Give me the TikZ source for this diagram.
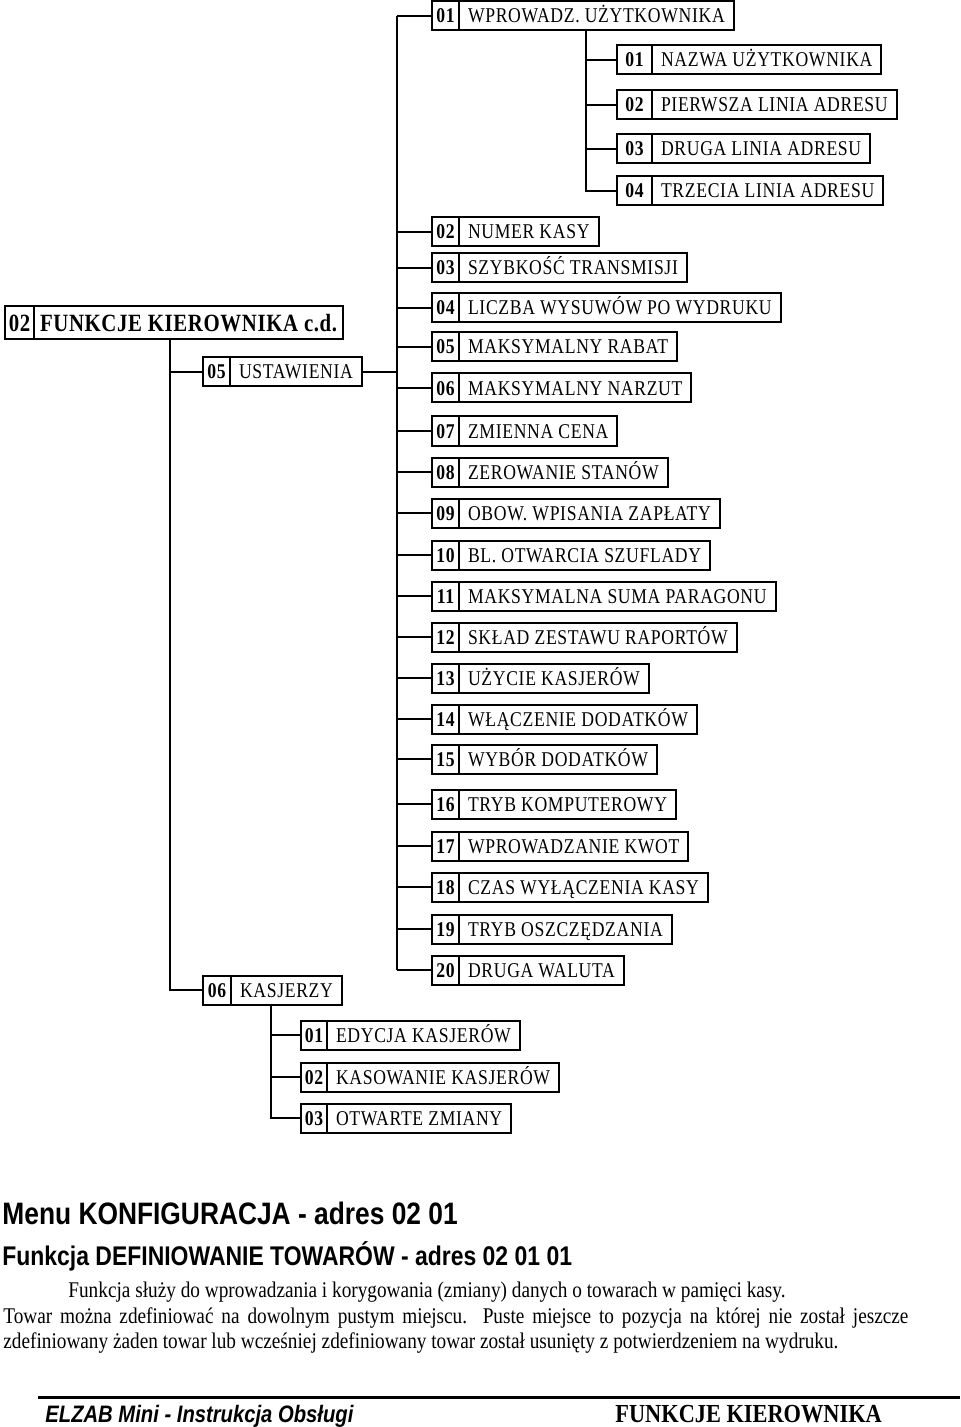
\documentclass[tikz,border=0pt]{standalone}
\usepackage{fontspec}
\setmainfont{Liberation Serif}
\newfontfamily\boxfont[FakeStretch=0.84,LetterSpace=3.2]{Liberation Serif}
\newfontfamily\titlefont[FakeStretch=0.84,LetterSpace=2.5]{Liberation Serif}
\newfontfamily\headfont[FakeStretch=0.85]{Liberation Sans}
\newfontfamily\bodyfont[FakeStretch=0.86]{Liberation Serif}
\usepackage{tikz}
\usetikzlibrary{positioning}

\begin{document}
\begin{tikzpicture}[
        x=0.5pt, y=-0.5pt,
        num/.style={rectangle, draw=black, line width=1pt, outer sep=0pt, inner sep=0pt, anchor=west, minimum width=13.5pt, minimum height=14.5pt, text height=7pt, text depth=0pt, font=\boxfont\bfseries\fontsize{10.5}{12}\selectfont},
        lbl/.style={rectangle, draw=black, line width=1pt, outer sep=0pt, inner xsep=4.5pt, inner ysep=0pt, minimum height=14.5pt, text height=7pt, text depth=0pt, font=\boxfont\fontsize{10.5}{12}\selectfont},
        wire/.style={line width=1pt},
        headtext/.style={anchor=base west, inner sep=0pt, font=\headfont\bfseries\fontsize{15.5}{17}\selectfont},
        bodytext/.style={anchor=base west, inner sep=0pt, font=\bodyfont\fontsize{11.2}{13}\selectfont}
    ]
        \useasboundingbox (0,0) rectangle (960,1427);

        % main menu
        \node[num, minimum width=14.5pt, minimum height=16.5pt, text height=8.5pt, font=\titlefont\bfseries\fontsize{12.4}{14}\selectfont] (fk) at (5,323) {02};
        \node[lbl, right=0pt of fk, minimum height=16.5pt, inner xsep=3pt, text height=8.5pt, font=\titlefont\bfseries\fontsize{12.4}{14}\selectfont] (fkt) {FUNKCJE KIEROWNIKA c.d.};

        \node[num] (us) at (203,372) {05};
        \node[lbl, right=0pt of us] (ust) {USTAWIENIA};
        \node[num, minimum width=14pt] (ka) at (203,990) {06};
        \node[lbl, right=0pt of ka] (kat) {KASJERZY};

        % USTAWIENIA
        \node[num] (u01) at (432,16) {01};
        \node[lbl, right=0pt of u01] (u01t) {WPROWADZ. UŻYTKOWNIKA};
        \node[num] (u02) at (432,232) {02};
        \node[lbl, right=0pt of u02] (u02t) {NUMER KASY};
        \node[num] (u03) at (432,268) {03};
        \node[lbl, right=0pt of u03] (u03t) {SZYBKOŚĆ TRANSMISJI};
        \node[num] (u04) at (432,308) {04};
        \node[lbl, right=0pt of u04] (u04t) {LICZBA WYSUWÓW PO WYDRUKU};
        \node[num] (u05) at (432,347) {05};
        \node[lbl, right=0pt of u05] (u05t) {MAKSYMALNY RABAT};
        \node[num] (u06) at (432,388) {06};
        \node[lbl, right=0pt of u06] (u06t) {MAKSYMALNY NARZUT};
        \node[num] (u07) at (432,431) {07};
        \node[lbl, right=0pt of u07] (u07t) {ZMIENNA CENA};
        \node[num] (u08) at (432,472) {08};
        \node[lbl, right=0pt of u08] (u08t) {ZEROWANIE STANÓW};
        \node[num] (u09) at (432,513) {09};
        \node[lbl, right=0pt of u09] (u09t) {OBOW. WPISANIA ZAPŁATY};
        \node[num] (u10) at (432,555) {10};
        \node[lbl, right=0pt of u10] (u10t) {BL. OTWARCIA SZUFLADY};
        \node[num] (u11) at (432,596) {11};
        \node[lbl, right=0pt of u11] (u11t) {MAKSYMALNA SUMA PARAGONU};
        \node[num] (u12) at (432,637) {12};
        \node[lbl, right=0pt of u12] (u12t) {SKŁAD ZESTAWU RAPORTÓW};
        \node[num] (u13) at (432,678) {13};
        \node[lbl, right=0pt of u13] (u13t) {UŻYCIE KASJERÓW};
        \node[num] (u14) at (432,719) {14};
        \node[lbl, right=0pt of u14] (u14t) {WŁĄCZENIE DODATKÓW};
        \node[num] (u15) at (432,759) {15};
        \node[lbl, right=0pt of u15] (u15t) {WYBÓR DODATKÓW};
        \node[num] (u16) at (432,804) {16};
        \node[lbl, right=0pt of u16] (u16t) {TRYB KOMPUTEROWY};
        \node[num] (u17) at (432,846) {17};
        \node[lbl, right=0pt of u17] (u17t) {WPROWADZANIE KWOT};
        \node[num] (u18) at (432,887) {18};
        \node[lbl, right=0pt of u18] (u18t) {CZAS WYŁĄCZENIA KASY};
        \node[num] (u19) at (432,929) {19};
        \node[lbl, right=0pt of u19] (u19t) {TRYB OSZCZĘDZANIA};
        \node[num] (u20) at (432,970) {20};
        \node[lbl, right=0pt of u20] (u20t) {DRUGA WALUTA};

        % WPROWADZ. UZYTKOWNIKA
        \node[num, minimum width=17.5pt] (w01) at (617,60) {01};
        \node[lbl, right=0pt of w01] (w01t) {NAZWA UŻYTKOWNIKA};
        \node[num, minimum width=17.5pt] (w02) at (617,105) {02};
        \node[lbl, right=0pt of w02] (w02t) {PIERWSZA LINIA ADRESU};
        \node[num, minimum width=17.5pt] (w03) at (617,149) {03};
        \node[lbl, right=0pt of w03] (w03t) {DRUGA LINIA ADRESU};
        \node[num, minimum width=17.5pt] (w04) at (617,191) {04};
        \node[lbl, right=0pt of w04] (w04t) {TRZECIA LINIA ADRESU};

        % KASJERZY
        \node[num, minimum width=13pt] (k01) at (301,1035) {01};
        \node[lbl, right=0pt of k01] (k01t) {EDYCJA KASJERÓW};
        \node[num, minimum width=13pt] (k02) at (301,1077) {02};
        \node[lbl, right=0pt of k02] (k02t) {KASOWANIE KASJERÓW};
        \node[num, minimum width=13pt] (k03) at (301,1118) {03};
        \node[lbl, right=0pt of k03] (k03t) {OTWARTE ZMIANY};

        % tree lines
        \coordinate (trunkA) at (170,0);
        \coordinate (trunkB) at (397,0);
        \coordinate (trunkC) at (586,0);
        \coordinate (trunkD) at (271,0);

        \draw[wire] (fkt.south -| trunkA) |- (ka.west);
        \draw[wire] (us.west -| trunkA) -- (us.west);
        \draw[wire] (ust.east) -- (ust.east -| trunkB);
        \draw[wire] (u01.west -| trunkB) -- (u20.west -| trunkB);
        \draw[wire] (u01.west -| trunkB) -- (u01.west);
        \draw[wire] (u02.west -| trunkB) -- (u02.west);
        \draw[wire] (u03.west -| trunkB) -- (u03.west);
        \draw[wire] (u04.west -| trunkB) -- (u04.west);
        \draw[wire] (u05.west -| trunkB) -- (u05.west);
        \draw[wire] (u06.west -| trunkB) -- (u06.west);
        \draw[wire] (u07.west -| trunkB) -- (u07.west);
        \draw[wire] (u08.west -| trunkB) -- (u08.west);
        \draw[wire] (u09.west -| trunkB) -- (u09.west);
        \draw[wire] (u10.west -| trunkB) -- (u10.west);
        \draw[wire] (u11.west -| trunkB) -- (u11.west);
        \draw[wire] (u12.west -| trunkB) -- (u12.west);
        \draw[wire] (u13.west -| trunkB) -- (u13.west);
        \draw[wire] (u14.west -| trunkB) -- (u14.west);
        \draw[wire] (u15.west -| trunkB) -- (u15.west);
        \draw[wire] (u16.west -| trunkB) -- (u16.west);
        \draw[wire] (u17.west -| trunkB) -- (u17.west);
        \draw[wire] (u18.west -| trunkB) -- (u18.west);
        \draw[wire] (u19.west -| trunkB) -- (u19.west);
        \draw[wire] (u20.west -| trunkB) -- (u20.west);

        \draw[wire] (u01t.south -| trunkC) |- (w04.west);
        \draw[wire] (w01.west -| trunkC) -- (w01.west);
        \draw[wire] (w02.west -| trunkC) -- (w02.west);
        \draw[wire] (w03.west -| trunkC) -- (w03.west);

        \draw[wire] (kat.south -| trunkD) |- (k03.west);
        \draw[wire] (k01.west -| trunkD) -- (k01.west);
        \draw[wire] (k02.west -| trunkD) -- (k02.west);

        % text below
        \node[headtext] (menu) at (2,1224) {Menu KONFIGURACJA - adres 02 01};
        \node[headtext, font=\headfont\bfseries\fontsize{13.5}{15}\selectfont] (funk) at (2,1265) {Funkcja DEFINIOWANIE TOWARÓW - adres 02 01 01};
        \node[bodytext] (opis1) at (68,1297) {Funkcja służy do wprowadzania i korygowania (zmiany) danych o towarach w pamięci kasy.};
        \node[bodytext] (opis2) at (3,1323) {\makebox[452.5pt][s]{Towar można zdefiniować na dowolnym pustym miejscu. Puste miejsce to pozycja na której nie został jeszcze}};
        \node[bodytext] (opis3) at (3,1348) {zdefiniowany żaden towar lub wcześniej zdefiniowany towar został usunięty z potwierdzeniem na wydruku.};

        % footer
        \draw[line width=1.5pt] (38,1397) -- (960,1397);
        \node[headtext, font=\headfont\bfseries\itshape\fontsize{11.9}{14}\selectfont] (elzab) at (45,1422) {ELZAB Mini - Instrukcja Obsługi};
        \node[bodytext, font=\bodyfont\bfseries\fontsize{13}{15}\selectfont] (stopka) at (615,1422) {FUNKCJE KIEROWNIKA};
    \end{tikzpicture}
\end{document}
